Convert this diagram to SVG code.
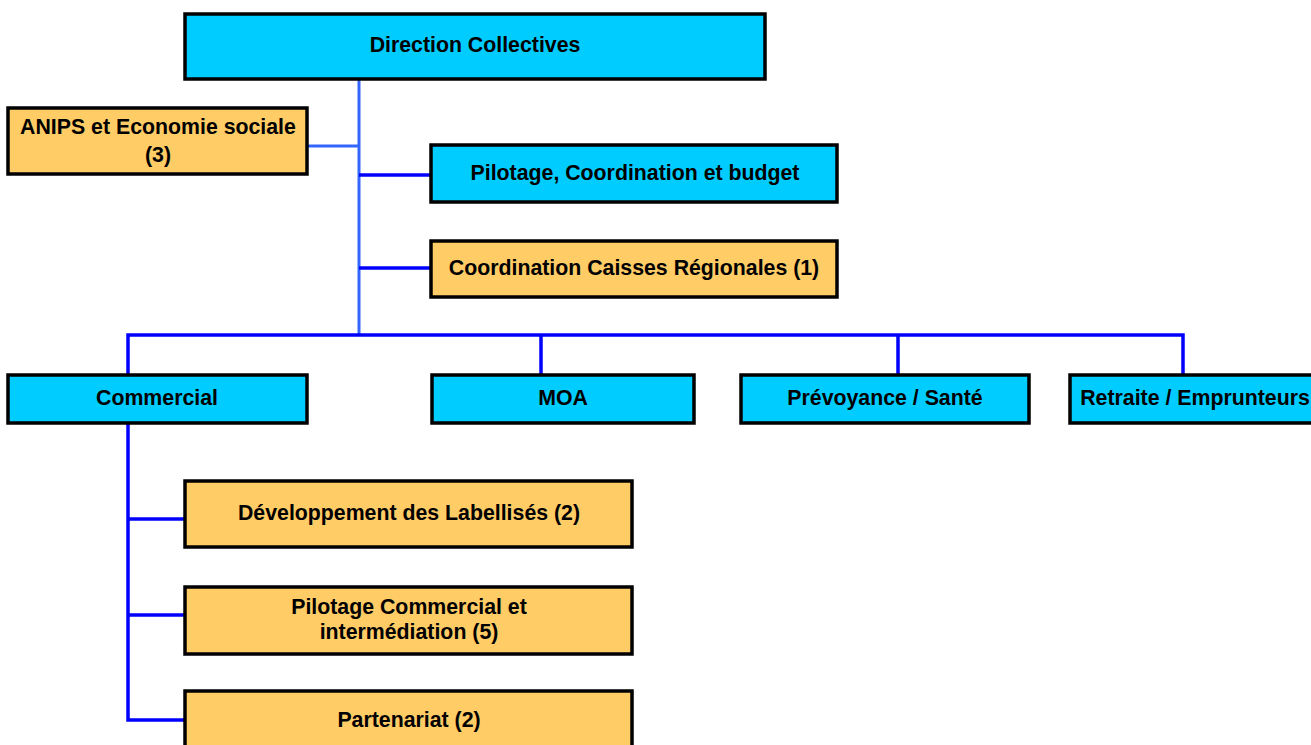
<svg xmlns="http://www.w3.org/2000/svg" width="1311" height="745" viewBox="0 0 1311 745">
<style>
.b{stroke:#000;stroke-width:3.5}
.c{fill:#00CCFF}
.o{fill:#FFCC66}
text{font-family:"Liberation Sans",Arial,sans-serif;font-weight:bold;font-size:21.3px;fill:#000;text-anchor:middle}
.l1{stroke:#3366FF;stroke-width:3;fill:none}
.l2{stroke:#0000FF;stroke-width:3.5;fill:none}
</style>
<rect width="1311" height="745" fill="#fff"/>
<g id="connectors">
<line class="l1" x1="359" y1="80" x2="359" y2="336"/>
<line class="l1" x1="307" y1="146" x2="359" y2="146"/>
<line class="l2" x1="359" y1="175" x2="431" y2="175"/>
<line class="l2" x1="359" y1="268" x2="431" y2="268"/>
<polyline class="l2" points="128,375 128,335 1183,335 1183,375"/>
<line class="l2" x1="541" y1="335" x2="541" y2="375"/>
<line class="l2" x1="898" y1="335" x2="898" y2="375"/>
<polyline class="l2" points="128,423 128,720 185,720"/>
<line class="l2" x1="128" y1="519" x2="185" y2="519"/>
<line class="l2" x1="128" y1="615" x2="185" y2="615"/>
</g>
<g id="direction"><rect class="b c" x="185" y="14" width="580" height="65"/><text x="475" y="52">Direction Collectives</text></g>
<g id="anips"><rect class="b o" x="8" y="108" width="299" height="66"/><text x="158" y="134">ANIPS et Economie sociale</text><text x="158" y="162">(3)</text></g>
<g id="pilotage"><rect class="b c" x="431" y="145" width="406" height="57"/><text x="635" y="180">Pilotage, Coordination et budget</text></g>
<g id="coordination"><rect class="b o" x="431" y="241" width="406" height="56"/><text x="634" y="275">Coordination Caisses Régionales (1)</text></g>
<g id="commercial"><rect class="b c" x="8" y="375" width="299" height="48"/><text x="157" y="405">Commercial</text></g>
<g id="moa"><rect class="b c" x="432" y="375" width="262" height="48"/><text x="563" y="405">MOA</text></g>
<g id="prevoyance"><rect class="b c" x="741" y="375" width="288" height="48"/><text x="885" y="405">Prévoyance / Santé</text></g>
<g id="retraite"><rect class="b c" x="1070" y="375" width="250" height="48"/><text x="1195" y="405">Retraite / Emprunteurs</text></g>
<g id="developpement"><rect class="b o" x="185" y="481" width="447" height="66"/><text x="409" y="520">Développement des Labellisés (2)</text></g>
<g id="pilotage-commercial"><rect class="b o" x="185" y="587" width="447" height="67"/><text x="409" y="614">Pilotage Commercial et</text><text x="409" y="639">intermédiation (5)</text></g>
<g id="partenariat"><rect class="b o" x="185" y="691" width="447" height="60"/><text x="409" y="727">Partenariat (2)</text></g>
</svg>
